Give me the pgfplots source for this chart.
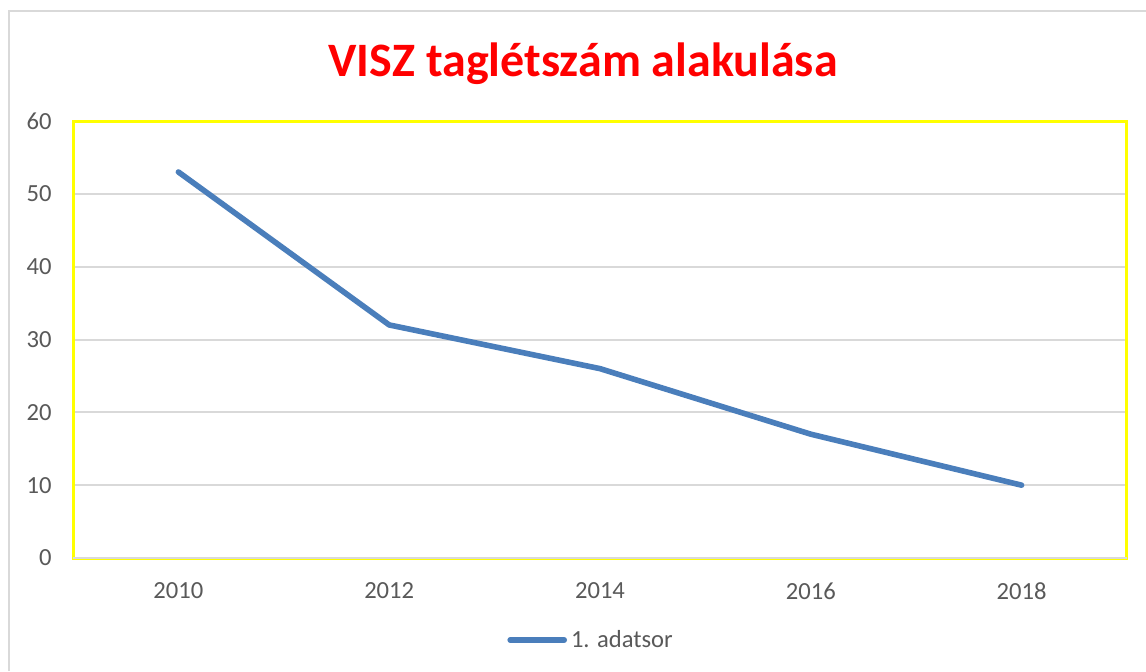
\documentclass[border=0pt]{standalone}
\usepackage{pgfplots}
\pgfplotsset{compat=1.18}
\usepackage{fontspec}
\setmainfont{Carlito}
\definecolor{lineblue}{HTML}{4A7EBB}
\definecolor{gridgray}{HTML}{D9D9D9}
\definecolor{ticktext}{HTML}{595959}
\definecolor{ylw}{HTML}{FFFF00}
\begin{document}
\begin{tikzpicture}
\useasboundingbox (0,0) rectangle (573pt,335.5pt);
\fill[white] (0,0) rectangle (573pt,335.5pt);
\draw[gridgray, line width=1pt] (4.5pt,0) -- (4.5pt,330pt) -- (573pt,330pt);
\node[text=red, font=\fontsize{24}{28}\selectfont\bfseries] at (291.5pt,303.5pt) {VISZ taglétszám alakulása};
\begin{axis}[
  at={(36.5pt,56.5pt)}, anchor=south west,
  scale only axis, width=527pt, height=218.5pt,
  xmin=-0.5, xmax=4.5, ymin=0, ymax=60,
  xtick={0,1,2,3,4}, xticklabels={2010,2012,2014,2016,2018},
  ytick={0,10,20,30,40,50,60},
  major tick length=0pt,
  ymajorgrids, grid style={gridgray, line width=1pt},
  axis line style={ylw, line width=1.5pt},
  tick label style={text=ticktext, font=\fontsize{12.3}{14}\selectfont},
  /pgf/number format/assume math mode=true,
  yticklabel style={anchor=east, inner sep=0pt, xshift=-10.5pt},
  xticklabel style={anchor=north, inner sep=0pt, yshift=-12pt},
  legend style={at={(0.4925,-0.1876)}, anchor=center, draw=none, fill=none,
    font=\fontsize{12.3}{14}\selectfont, text=ticktext, inner sep=0pt},
  legend image code/.code={\draw[#1, line cap=round] (0pt,0pt) -- (27pt,0pt);},
  clip=false,
]
\draw[gridgray, line width=1pt] (axis cs:-0.5,0) -- (axis cs:4.5,0);
\addplot[lineblue, line width=2.8pt, line cap=round, line join=round] coordinates {
  (0,53) (1,32) (2,26) (3,17) (4,10)
};
\addlegendentry{1. adatsor}
\end{axis}
\end{tikzpicture}
\end{document}
